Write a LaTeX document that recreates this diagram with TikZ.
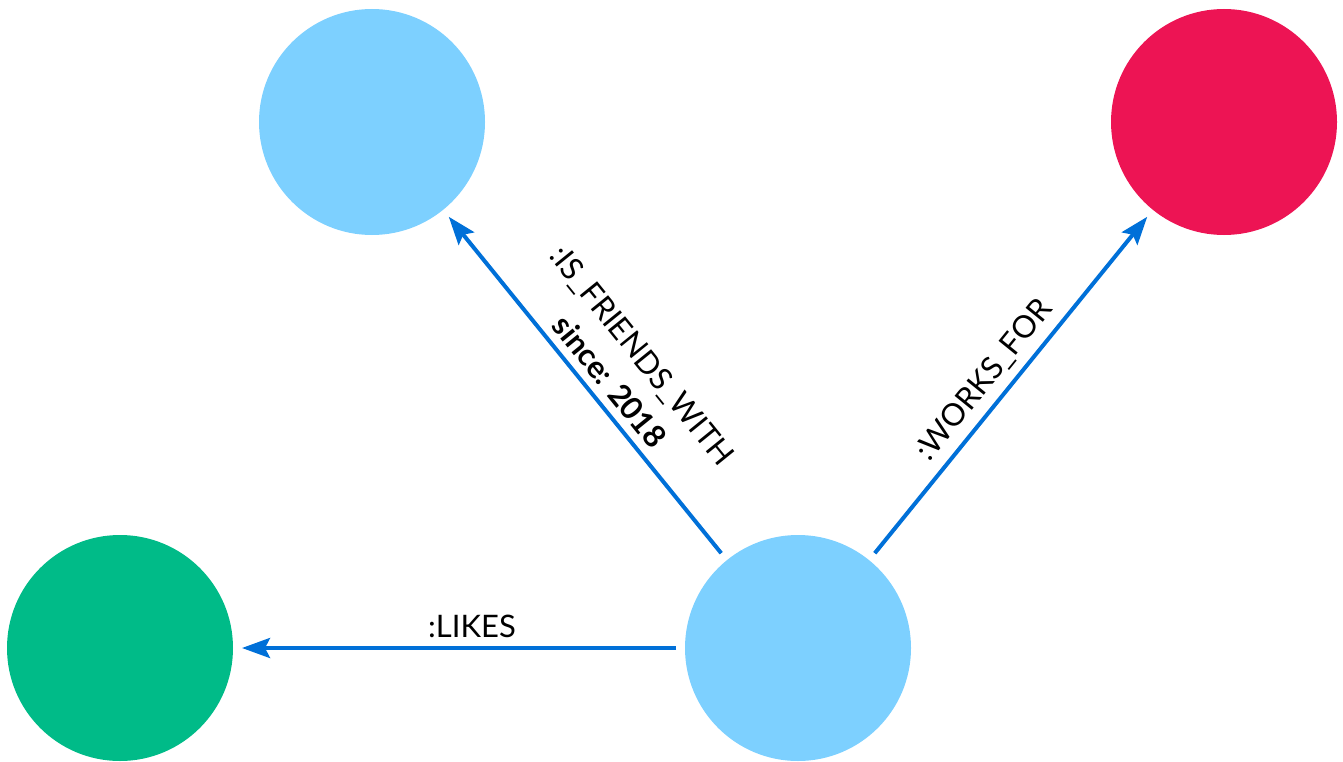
\documentclass[tikz,border=0pt]{standalone}
\usepackage{fontspec}
\setmainfont{Lato}
\usetikzlibrary{arrows.meta}
\definecolor{nodeblue}{RGB}{125,208,255}
\definecolor{nodered}{RGB}{237,20,84}
\definecolor{nodegreen}{RGB}{0,187,136}
\definecolor{edgeblue}{RGB}{0,112,216}
\begin{document}
\begin{tikzpicture}[x=1pt,y=-1pt,
  entity/.style={circle,minimum size=226pt,inner sep=0pt,outer sep=9pt,draw=none},
  rel/.style={draw=edgeblue,line width=4pt,
    -{Stealth[length=28pt,width=20pt,inset=5pt]}},
  rellabel/.style={font=\fontsize{31}{42}\selectfont,sloped,above,inner sep=8pt,pos=0.47,align=center}]
  \useasboundingbox (0,0) rectangle (1343,762);
  % people, company and hobby nodes
  \node[entity,fill=nodeblue]  (friend) at (372,122) {};
  \node[entity,fill=nodered]   (company) at (1224,122) {};
  \node[entity,fill=nodegreen] (hobby) at (120,648) {};
  \node[entity,fill=nodeblue]  (person) at (798,648) {};
  % relationships
  \draw[rel] (person) -- (friend)
    node[rellabel] {:IS\_FRIENDS\_WITH\\\textbf{since: 2018}};
  \draw[rel] (person) -- (company)
    node[rellabel] {:WORKS\_FOR};
  \draw[rel] (person) -- (hobby)
    node[rellabel] {:LIKES};
\end{tikzpicture}
\end{document}
